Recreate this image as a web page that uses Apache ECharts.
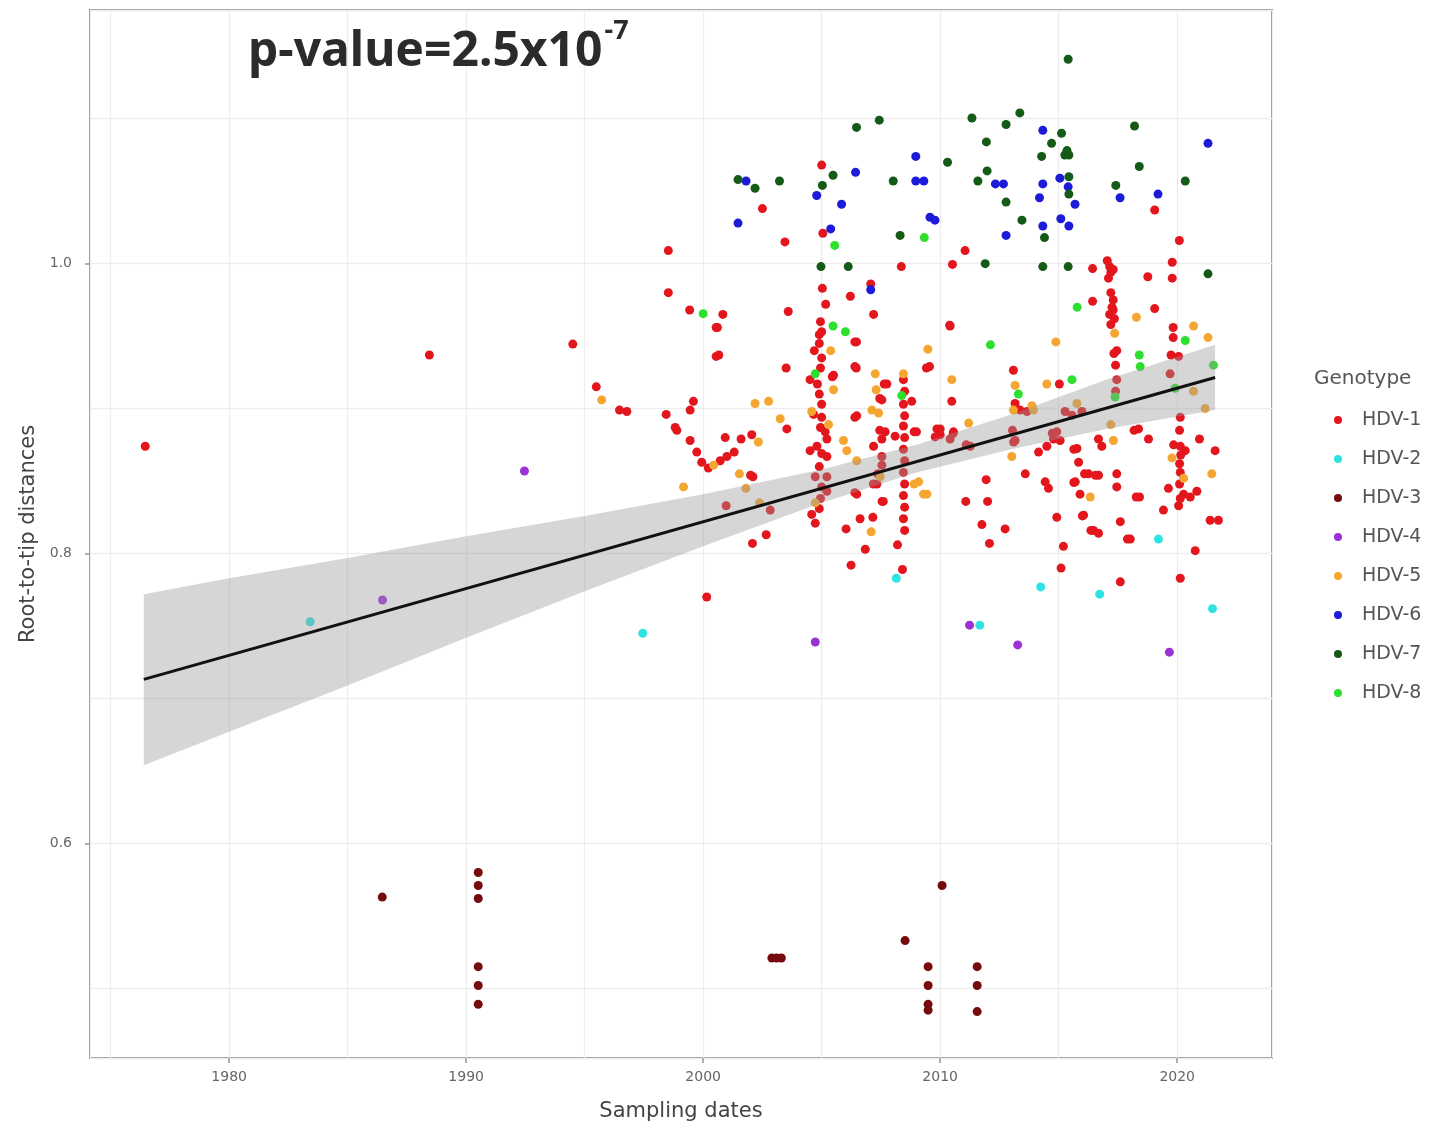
<!DOCTYPE html>
<html>
<head>
<meta charset="utf-8">
<title>Root-to-tip regression</title>
<script src="https://cdn.jsdelivr.net/npm/echarts@6/dist/echarts.min.js"></script>
<style>
  html, body { margin: 0; padding: 0; background: #fff; }
  #chart { width: 1437px; height: 1129px; }
</style>
</head>
<body>
<div id="chart"></div>
<script>
// [sampling year, root-to-tip distance] per genotype
var hdv1 = [
  [2005.0, 1.068], [2002.5, 1.038], [2019.05, 1.037], [2005.05, 1.021], [1998.53, 1.009], [2003.45, 1.015],
  [2020.09, 1.016], [2011.05, 1.009], [2008.36, 0.998], [2010.52, 0.9995], [2016.43, 0.9966],
  [2017.05, 1.002], [2017.15, 0.998], [2017.2, 0.994], [2017.1, 0.990], [2017.3, 0.996],
  [2018.76, 0.991], [2019.79, 1.001], [2019.79, 0.990], [1998.53, 0.980], [1999.43, 0.968], [2000.83, 0.965],
  [2000.6, 0.956], [2003.59, 0.967], [2005.03, 0.983], [2005.17, 0.972], [2006.21, 0.9775], [2007.07, 0.986],
  [2007.19, 0.965], [2010.4, 0.9575], [2004.9, 0.951], [2006.47, 0.946], [2004.69, 0.940], [2016.43, 0.974],
  [2017.2, 0.980], [2017.3, 0.975], [2017.25, 0.970], [2017.15, 0.965], [2017.35, 0.962], [2017.2, 0.958],
  [2017.3, 0.968], [2019.05, 0.969], [2019.83, 0.956], [2019.83, 0.949], [2017.33, 0.938], [2019.74, 0.937],
  [2000.66, 0.937], [1988.45, 0.937], [1994.5, 0.9445], [1976.46, 0.874],
  [2000.55, 0.956], [1995.49, 0.915], [1996.47, 0.899], [1996.78, 0.898], [1998.44, 0.896], [1998.82, 0.887],
  [1998.89, 0.885], [1999.59, 0.905], [1999.45, 0.899], [1999.45, 0.878], [1999.73, 0.870], [1999.94, 0.863],
  [2000.22, 0.859], [2000.72, 0.864], [2001.0, 0.867], [2001.31, 0.870], [2000.93, 0.880], [2001.6, 0.879],
  [2002.05, 0.882], [2003.53, 0.886], [2003.5, 0.928], [2002.1, 0.853], [2000.97, 0.833], [2002.83, 0.830],
  [2002.66, 0.813], [2002.08, 0.807], [2000.15, 0.770], [2000.55, 0.936],
  [2004.51, 0.920], [2004.82, 0.917], [2005.5, 0.923], [2006.46, 0.928], [2007.75, 0.917], [2007.54, 0.906],
  [2006.48, 0.895], [2004.66, 0.896], [2005.0, 0.894], [2005.15, 0.884], [2005.22, 0.879], [2004.51, 0.871],
  [2004.8, 0.874], [2005.0, 0.869], [2005.22, 0.867], [2004.73, 0.853], [2005.22, 0.853], [2005.22, 0.843],
  [2004.58, 0.827], [2004.73, 0.821], [2006.48, 0.841], [2007.19, 0.874], [2007.54, 0.879], [2007.68, 0.884],
  [2007.54, 0.867], [2007.54, 0.861], [2008.1, 0.881], [2007.33, 0.848], [2007.6, 0.836], [2006.62, 0.824],
  [2007.16, 0.825], [2006.03, 0.817], [2006.84, 0.803], [2008.2, 0.806], [2006.24, 0.792], [2008.41, 0.789],
  [2006.4, 0.946], [2006.4, 0.929], [2005.45, 0.922], [2009.42, 0.928], [2010.42, 0.957], [2007.64, 0.917],
  [2007.45, 0.907], [2006.4, 0.894], [2008.9, 0.884], [2010.0, 0.886], [2010.55, 0.883], [2011.1, 0.875],
  [2007.55, 0.836], [2006.4, 0.842], [2007.45, 0.885], [2007.36, 0.855], [2007.18, 0.848], [2002.0, 0.854],
  [2008.45, 0.920], [2008.5, 0.912], [2008.45, 0.903], [2008.5, 0.895], [2008.45, 0.888], [2008.5, 0.880],
  [2008.45, 0.872], [2008.5, 0.864], [2008.45, 0.856], [2008.5, 0.848], [2008.45, 0.840], [2008.5, 0.832],
  [2008.45, 0.824], [2008.5, 0.816],
  [2004.95, 0.960], [2005.0, 0.953], [2004.9, 0.945], [2005.0, 0.935], [2004.95, 0.928], [2004.9, 0.910],
  [2005.0, 0.903], [2004.95, 0.887], [2004.9, 0.860], [2005.0, 0.846], [2004.95, 0.838], [2004.9, 0.831],
  [2009.55, 0.929], [2010.49, 0.905], [2008.8, 0.905], [2009.0, 0.884], [2009.86, 0.886], [2010.0, 0.882],
  [2009.79, 0.8805], [2010.56, 0.884], [2010.42, 0.879], [2011.27, 0.874], [2013.09, 0.9265], [2013.16, 0.9035],
  [2013.37, 0.899], [2013.66, 0.898], [2015.03, 0.917], [2015.27, 0.898], [2015.56, 0.8955], [2015.98, 0.898],
  [2014.92, 0.884], [2014.78, 0.879], [2015.06, 0.878], [2014.15, 0.870], [2014.5, 0.874], [2013.16, 0.878],
  [2015.77, 0.8725], [2016.68, 0.879], [2016.82, 0.874], [2013.05, 0.885], [2013.1, 0.877], [2014.73, 0.883],
  [2017.45, 0.940], [2017.4, 0.930], [2017.45, 0.920], [2017.4, 0.912], [2018.18, 0.885],
  [2020.06, 0.936], [2019.7, 0.924], [2018.37, 0.886], [2018.79, 0.879],
  [2020.13, 0.894], [2020.1, 0.885], [2020.13, 0.874], [2020.15, 0.868], [2020.1, 0.862], [2020.13, 0.856],
  [2020.1, 0.848], [2020.13, 0.838],
  [2019.85, 0.875], [2020.34, 0.871], [2020.94, 0.879], [2021.6, 0.871], [2020.27, 0.841], [2020.55, 0.839],
  [2020.83, 0.843], [2019.63, 0.845], [2020.06, 0.833], [2019.42, 0.830], [2021.39, 0.823], [2021.74, 0.823],
  [2020.76, 0.802], [2020.13, 0.783], [2017.6, 0.7805], [2018.02, 0.810], [2017.6, 0.822], [2016.47, 0.816],
  [2016.68, 0.814], [2015.2, 0.805], [2015.1, 0.790], [2014.92, 0.825], [2016.05, 0.8265], [2015.7, 0.8495],
  [2015.9, 0.841], [2016.26, 0.855], [2016.68, 0.854], [2015.84, 0.863], [2017.45, 0.855], [2017.45, 0.846],
  [2018.41, 0.839], [2014.43, 0.8495], [2014.57, 0.845], [2013.59, 0.855], [2011.94, 0.851], [2012.0, 0.836],
  [2011.08, 0.836], [2011.76, 0.820], [2012.08, 0.807], [2012.74, 0.817], [2016.0, 0.826], [2016.36, 0.816],
  [2017.9, 0.810], [2018.27, 0.839], [2015.64, 0.872], [2016.09, 0.855], [2016.55, 0.854], [2015.64, 0.849]
];
var hdv2 = [
  [1983.42, 0.753], [1997.45, 0.745], [2008.15, 0.783], [2011.67, 0.7506], [2014.24, 0.777],
  [2016.73, 0.772], [2019.21, 0.810], [2021.49, 0.762]
];
var hdv3 = [
  [1986.46, 0.563], [1990.51, 0.580], [1990.51, 0.571], [1990.51, 0.562], [1990.51, 0.515], [1990.51, 0.502],
  [1990.51, 0.489], [2002.9, 0.521], [2003.1, 0.521], [2003.3, 0.521], [2008.52, 0.533], [2010.08, 0.571],
  [2009.49, 0.515], [2009.49, 0.502], [2009.49, 0.489], [2009.49, 0.485], [2011.56, 0.515], [2011.56, 0.502],
  [2011.56, 0.484]
];
var hdv4 = [
  [1986.47, 0.768], [1992.46, 0.857], [2004.73, 0.739], [2011.24, 0.7506], [2013.27, 0.737], [2019.67, 0.732]
];
var hdv5 = [
  [2005.38, 0.940], [2009.48, 0.941], [2014.88, 0.946], [2018.28, 0.963], [2020.69, 0.957], [2021.3, 0.949],
  [1995.72, 0.906], [2000.44, 0.861], [2002.33, 0.877], [2002.19, 0.9035], [2002.76, 0.905], [2003.25, 0.893],
  [1999.17, 0.846], [2001.53, 0.855], [2001.8, 0.845], [2002.38, 0.835], [2005.5, 0.913], [2007.26, 0.924],
  [2007.3, 0.913], [2007.12, 0.899], [2007.4, 0.897], [2008.45, 0.924], [2004.58, 0.898], [2005.29, 0.889],
  [2005.92, 0.878], [2006.06, 0.871], [2006.48, 0.864], [2004.73, 0.835], [2007.47, 0.853], [2007.09, 0.815],
  [2010.49, 0.920], [2011.2, 0.890], [2013.16, 0.916], [2013.09, 0.899], [2013.87, 0.902], [2013.94, 0.899],
  [2014.5, 0.917], [2015.77, 0.9035], [2013.02, 0.867], [2017.31, 0.878], [2020.69, 0.912], [2021.18, 0.900],
  [2019.78, 0.866], [2021.46, 0.855], [2020.27, 0.852], [2016.33, 0.839], [2009.44, 0.841], [2009.09, 0.8495],
  [2017.36, 0.952], [2017.2, 0.889], [2008.9, 0.848], [2009.3, 0.841]
];
var hdv6 = [
  [2014.33, 1.092], [2021.3, 1.083], [2008.97, 1.074], [2006.43, 1.063], [2001.81, 1.057], [2008.97, 1.057],
  [2009.31, 1.057], [2012.33, 1.055], [2012.67, 1.055], [2014.33, 1.055], [2015.05, 1.059], [2015.4, 1.053],
  [2019.19, 1.048], [2017.59, 1.0455], [2014.19, 1.0455], [2015.69, 1.041], [2004.79, 1.047], [2005.84, 1.041],
  [2001.47, 1.028], [2005.38, 1.024], [2009.57, 1.032], [2009.78, 1.030], [2014.33, 1.026], [2015.09, 1.031],
  [2015.43, 1.026], [2012.78, 1.0195], [2007.07, 0.982]
];
var hdv7 = [
  [2015.4, 1.141], [2006.47, 1.094], [2007.43, 1.099], [2011.34, 1.1005], [2012.78, 1.096], [2013.36, 1.104],
  [2015.12, 1.090], [2011.95, 1.084], [2014.7, 1.083], [2018.2, 1.095], [2015.26, 1.075], [2015.43, 1.075],
  [2015.35, 1.078], [2014.28, 1.074], [2010.31, 1.070], [2018.4, 1.067], [2005.48, 1.061], [2001.47, 1.058],
  [2002.19, 1.052], [2003.22, 1.057], [2005.03, 1.054], [2008.02, 1.057], [2011.59, 1.057], [2011.98, 1.064],
  [2015.43, 1.060], [2015.43, 1.048], [2017.41, 1.054], [2020.34, 1.057], [2012.78, 1.0425], [2013.45, 1.030],
  [2008.31, 1.0195], [2014.4, 1.018], [2004.97, 0.998], [2006.12, 0.998], [2011.9, 1.0], [2014.33, 0.998],
  [2015.4, 0.998], [2021.3, 0.993]
];
var hdv8 = [
  [2009.33, 1.018], [2005.55, 1.0126], [2000.0, 0.9655], [2005.48, 0.957], [2006.0, 0.953], [2012.12, 0.944],
  [2015.78, 0.970], [2018.4, 0.937], [2018.44, 0.929], [2020.34, 0.947], [2004.73, 0.924], [2008.38, 0.909],
  [2013.3, 0.910], [2015.56, 0.920], [2017.38, 0.908], [2019.91, 0.914], [2021.53, 0.930]
];

// fitted regression line and its confidence band
var lineX = [1976.4, 2021.6];
var lineY = [0.7132, 0.9215];
var bandX = [1976.4, 1980, 1985, 1990, 1995, 2000, 2005, 2009, 2013, 2017, 2021.6];
var bandLow = [0.654, 0.677, 0.709, 0.742, 0.774, 0.805, 0.835, 0.856, 0.872, 0.886, 0.899];
var bandHigh = [0.772, 0.783, 0.797, 0.812, 0.826, 0.841, 0.858, 0.875, 0.896, 0.920, 0.944];

var xTicks = [1980, 1990, 2000, 2010, 2020];
var yTicks = [0.6, 0.8, 1.0];

var genotypes = ['HDV-1', 'HDV-2', 'HDV-3', 'HDV-4', 'HDV-5', 'HDV-6', 'HDV-7', 'HDV-8'];
var genotypeData = [hdv1, hdv2, hdv3, hdv4, hdv5, hdv6, hdv7, hdv8];
var genotypeColors = ['#e3161e', '#30e3e3', '#760b0e', '#9a32d6', '#f4a630', '#1c1cd8', '#155a17', '#2ee02e'];

var chart = echarts.init(document.getElementById('chart'), null, { renderer: 'canvas' });

var font = 'DejaVu Sans';
var series = genotypes.map(function (name, i) {
  return {
    name: name,
    type: 'scatter',
    data: genotypeData[i],
    symbol: 'circle',
    symbolSize: 9,
    itemStyle: { color: genotypeColors[i], opacity: 1 },
    z: 2
  };
});

// confidence band: one polygon through the upper edge and back along the lower edge
series.push({
  name: 'band',
  type: 'custom',
  data: bandX.map(function (x, i) { return [x, bandLow[i], bandHigh[i]]; }),
  encode: { x: 0, y: [1, 2] },
  silent: true,
  z: 3,
  renderItem: function (params, api) {
    if (params.dataIndex !== 0) return null;
    var upper = [], lower = [];
    for (var i = 0; i < bandX.length; i++) {
      upper.push(api.coord([bandX[i], bandHigh[i]]));
      lower.unshift(api.coord([bandX[i], bandLow[i]]));
    }
    return {
      type: 'polygon',
      shape: { points: upper.concat(lower) },
      style: { fill: 'rgba(153,153,153,0.4)' }
    };
  }
});
series.push({
  name: 'fit',
  type: 'line',
  data: lineX.map(function (x, i) { return [x, lineY[i]]; }),
  symbol: 'none',
  lineStyle: { color: '#111111', width: 3 },
  silent: true,
  z: 4
});

var xMin = 1974.13, xMax = 2024.0;
var yMin = 0.452, yMax = 1.175;

chart.setOption({
  animation: false,
  backgroundColor: '#ffffff',
  title: [{
    text: '{m|p-value=2.5x10}{s|-7}',
    left: 243,
    top: 13,
    textStyle: {
      rich: {
        m: { fontFamily: 'Noto Sans', fontWeight: 'bold', fontSize: 48, color: '#2b2b2b', lineHeight: 58, verticalAlign: 'bottom' },
        s: { fontFamily: 'Noto Sans', fontWeight: 'bold', fontSize: 27, color: '#2b2b2b', lineHeight: 58, verticalAlign: 'top', padding: [0, 0, 0, 2] }
      }
    }
  }, {
    text: 'Genotype',
    left: 1309,
    top: 364,
    textStyle: { fontFamily: font, fontWeight: 'normal', fontSize: 20, color: '#555555' }
  }],
  legend: {
    data: genotypes,
    orient: 'vertical',
    left: 1329,
    top: 405,
    icon: 'circle',
    itemWidth: 38,
    itemHeight: 8,
    itemGap: 19,
    selectedMode: false,
    textStyle: { fontFamily: font, fontSize: 19, color: '#555555', lineHeight: 20, padding: 0 }
  },
  grid: {
    left: 90, right: 165, top: 10, bottom: 71,
    show: true,
    borderColor: '#959595',
    borderWidth: 2,
    backgroundColor: '#ffffff'
  },
  xAxis: [{
    type: 'value',
    min: xMin, max: xMax,
    splitNumber: 10,
    position: 'bottom',
    axisLine: { show: false },
    axisTick: { show: false },
    axisLabel: { show: false },
    splitLine: { show: true, lineStyle: { color: '#ededed', width: 1.3 } }
  }, {
    type: 'value',
    min: xMin, max: xMax,
    position: 'bottom',
    axisLine: { show: false },
    axisTick: { show: true, customValues: xTicks, length: 5, lineStyle: { color: '#959595', width: 1.5 } },
    axisLabel: {
      customValues: xTicks, margin: 12,
      fontFamily: font, fontSize: 14, color: '#666666',
      formatter: function (v) { return String(Math.round(v)); }
    },
    splitLine: { show: false },
    name: 'Sampling dates',
    nameLocation: 'middle',
    nameGap: 43,
    nameTextStyle: { fontFamily: font, fontSize: 21, color: '#444444' }
  }],
  yAxis: [{
    type: 'value',
    min: yMin, max: yMax,
    splitNumber: 7,
    position: 'left',
    axisLine: { show: false },
    axisTick: { show: false },
    axisLabel: { show: false },
    splitLine: { show: true, lineStyle: { color: '#ededed', width: 1.3 } }
  }, {
    type: 'value',
    min: yMin, max: yMax,
    position: 'left',
    axisLine: { show: false },
    axisTick: { show: true, customValues: yTicks, length: 5, lineStyle: { color: '#959595', width: 1.5 } },
    axisLabel: {
      customValues: yTicks, margin: 18,
      fontFamily: font, fontSize: 14, color: '#666666',
      formatter: function (v) { return v.toFixed(1); }
    },
    splitLine: { show: false },
    name: 'Root-to-tip distances',
    nameLocation: 'middle',
    nameGap: 48,
    nameTextStyle: { fontFamily: font, fontSize: 21, color: '#444444' }
  }],
  series: series
});
</script>
</body>
</html>
